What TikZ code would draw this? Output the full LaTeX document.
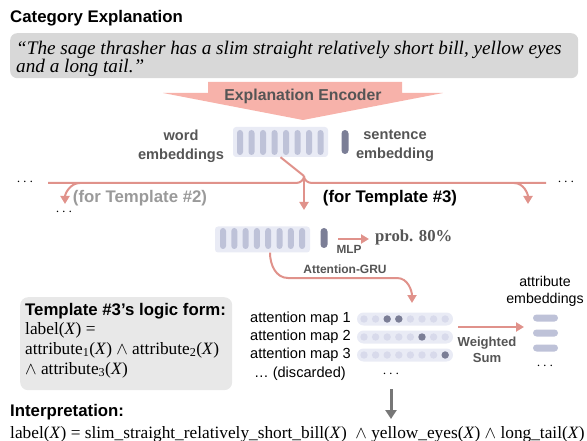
\documentclass[tikz,border=0pt]{standalone}
\usepackage{fontspec}
\setmainfont{Liberation Serif}
\setsansfont{Liberation Sans}
\usetikzlibrary{arrows.meta}

\definecolor{quotegray}{HTML}{D8D8D8}
\definecolor{logicgray}{HTML}{E8E8E8}
\definecolor{encpink}{HTML}{F7B2AA}
\definecolor{linkpink}{HTML}{E0928B}
\definecolor{embbg}{HTML}{E9EBF5}
\definecolor{barblue}{HTML}{BEC2D8}
\definecolor{bardark}{HTML}{7B7E96}
\definecolor{dotlight}{HTML}{D8DAEB}
\definecolor{txtgray}{HTML}{555555}
\definecolor{fadegray}{HTML}{9A9A9A}
\definecolor{downgray}{HTML}{777777}

\tikzset{
  hdr/.style={font=\sffamily\bfseries\fontsize{16.8}{19}\selectfont, inner sep=0},
  lbl/.style={font=\sffamily\bfseries\fontsize{14.6}{19}\selectfont, text=txtgray, align=center, inner sep=0},
  small/.style={font=\sffamily\bfseries\fontsize{12}{15}\selectfont, text=txtgray, align=center, inner sep=0},
  plain/.style={font=\sffamily\fontsize{14.6}{19}\selectfont, inner sep=0},
  formula/.style={font=\fontsize{17.3}{20}\selectfont, inner sep=0, anchor=base west},
  quoteline/.style={font=\itshape\fontsize{19.2}{20}\selectfont, inner sep=0, anchor=base west},
  embbox/.style={fill=embbg, rounded corners=3pt, inner sep=0},
  pinkline/.style={draw=linkpink, line width=2pt},
  pinkarrow/.style={draw=linkpink, line width=2pt, -{Triangle[length=8pt,width=9pt]}},
}

\begin{document}
\begin{tikzpicture}[x=1pt,y=-1pt]
\useasboundingbox (0,0) rectangle (587,441);

% explanation
\node[hdr, anchor=base west] (cat) at (10,23) {Category Explanation};
\node[fill=quotegray, rounded corners=7pt, minimum width=568pt, minimum height=45pt,
  anchor=north west, inner sep=0] (quote) at (10,33) {};
\node[quoteline] (q1) at (16,54.5) {``The sage thrasher has a slim straight relatively short bill, yellow eyes};
\node[quoteline] (q2) at (16,72.5) {and a long tail.''};

% encoder
\fill[encpink] (208,82) -- (402,82) -- (402,93) -- (443,93) -- (303,120)
  -- (163,93) -- (208,93) -- cycle;
\node[hdr, text=txtgray, font=\sffamily\bfseries\fontsize{15.8}{18}\selectfont] (enc) at (303,96) {Explanation Encoder};

% embeddings
\node[embbox, minimum width=95pt, minimum height=30pt] (wemb) at (280.5,142) {};
\foreach \i in {0,...,7}
  \fill[barblue, rounded corners=3pt] ({237+11.5*\i},130) rectangle ++(6,25);
\fill[bardark, rounded corners=3.5pt] (341.5,130) rectangle ++(7,24);
\node[lbl] (wlbl) at (181,146) {word\\embeddings};
\node[lbl] (slbl) at (395,146) {sentence\\embedding};

% branches
\coordinate (fork) at (304,176);
\draw[pinkline] (wemb.south) -- (fork);
\draw[pinkline] (fork) to[out=-90,in=0] (296,183) -- (48,183);
\draw[pinkline] (fork) to[out=-90,in=180] (312,183) -- (546,183);
\draw[pinkarrow] (fork) -- (304,210);
\draw[pinkarrow] (80,183) to[out=180,in=90] (65,204);
\draw[pinkarrow] (514,183) to[out=0,in=90] (528,204);
\node[plain] (dl) at (25,182) {$\cdots$};
\node[plain] (dr) at (566,182) {$\cdots$};
\node[hdr, text=fadegray] (t2) at (140,198) {(for Template \#2)};
\node[hdr] (t3) at (390,198) {(for Template \#3)};
\node[plain] (d2) at (64,212) {$\cdots$};

% template 3 encoding
\node[embbox, minimum width=95pt, minimum height=26pt] (temb) at (262.5,239.5) {};
\foreach \i in {0,...,7}
  \fill[barblue, rounded corners=3pt] ({220+11.3*\i},228) rectangle ++(6,21);
\fill[bardark, rounded corners=3.5pt] (320.5,228) rectangle ++(7,20);
\coordinate (mlpin) at (338,239);
\draw[pinkarrow] (mlpin) -- (369,239);
\node[small, font=\sffamily\bfseries\fontsize{11.8}{14}\selectfont] (mlp) at (349,249) {MLP};
\node[inner sep=0, anchor=west, text=txtgray,
  font=\bfseries\fontsize{16.7}{19}\selectfont] (prob) at (375,237) {prob. 80\%};

% attention
\draw[pinkarrow] ([xshift=7.5pt]temb.south) to[out=-90,in=180] (288,278) -- (397,278)
  to[out=0,in=90] (412,303);
\node[small] (gru) at (345,269) {Attention-GRU};
\foreach \r/\y in {1/319,2/337,3/355}
  \node[plain, anchor=east] (map\r) at (351,\y) {attention map \r};
\node[plain, anchor=east] (disc) at (346,374) {\dots\ (discarded)};
\foreach \y in {319,337,355} {
  \fill[embbg, rounded corners=6.5pt] (357,{\y-6.5}) rectangle (453,{\y+6.5});
  \foreach \i in {0,...,7}
    \fill[dotlight] ({364+11.6*\i},\y) circle (3.7);
}
\fill[bardark] ({364+11.6*2},319) circle (3.7);
\fill[bardark] ({364+11.6*3},319) circle (3.7);
\fill[bardark] ({364+11.6*5},337) circle (3.7);
\fill[bardark] ({364+11.6*7},355) circle (3.7);
\node[plain] (dm) at (391,374) {$\cdots$};
\coordinate (wsin) at (458,327);
\draw[pinkarrow] (wsin) -- (524,327);
\node[small, font=\sffamily\bfseries\fontsize{13.1}{15.5}\selectfont] (ws) at (487,350) {Weighted\\Sum};

% attribute embeddings
\node[plain, align=center, font=\sffamily\fontsize{14.2}{17}\selectfont] (attr) at (545,291) {attribute\\embeddings};
\foreach \y in {318,333,348}
  \fill[barblue, rounded corners=3.5pt] (533,{\y-3.5}) rectangle (558,{\y+3.5});
\node[plain] (da) at (545,366) {$\cdots$};

% logic form
\node[fill=logicgray, rounded corners=8pt, minimum width=212pt, minimum height=93pt,
  anchor=north west, inner sep=0] (logic) at (20,297) {};
\node[hdr, anchor=base west] (lft) at (25,315) {Template \#3's logic form:};
\node[formula] (l1) at (25,334) {label(\textit{X}) =};
\node[formula] (l2) at (25,354) {attribute\textsubscript{1}(\textit{X}) $\wedge$ attribute\textsubscript{2}(\textit{X})};
\node[formula] (l3) at (25,374) {$\wedge$ attribute\textsubscript{3}(\textit{X})};

% interpretation
\draw[draw=downgray, line width=3pt, -{Triangle[length=9pt,width=11pt]}] (dm.south) ++(0,12) coordinate (dstart) -- (391,419);
\node[hdr, anchor=base west] (interp) at (10,416) {Interpretation:};
\node[formula] (rule) at (10,438) {label(\textit{X}) = slim\_straight\_relatively\_short\_bill(\textit{X}) \ $\wedge$ yellow\_eyes(\textit{X}) $\wedge$ long\_tail(\textit{X})};
\end{tikzpicture}
\end{document}
